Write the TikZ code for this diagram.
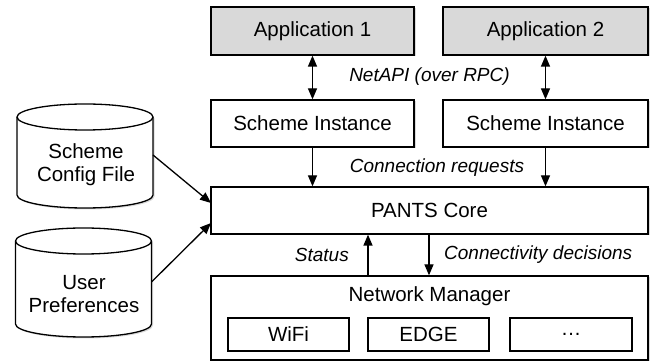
\documentclass[tikz,border=0pt]{standalone}
\usepackage{fontspec}
\setmainfont{Liberation Sans}
\usetikzlibrary{arrows.meta,shadows}
\begin{document}
\begin{tikzpicture}[x=1pt,y=1pt,
  shad/.style={drop shadow={shadow xshift=1.5pt,shadow yshift=-1.5pt,opacity=0.3}},
  box/.style={draw,line width=1.3pt,fill=white,inner sep=0pt,shad,font=\fontsize{20.5}{24}\selectfont},
  appbox/.style={box,fill=black!15},
  subbox/.style={draw,line width=1.3pt,fill=white,inner sep=0pt,minimum width=121pt,minimum height=33pt,font=\fontsize{20.5}{24}\selectfont},
  lab/.style={font=\fontsize{19}{22}\selectfont\itshape,inner sep=0pt},
  cyltext/.style={align=center,font=\fontsize{20.5}{23}\selectfont,inner sep=0pt},
  arr/.style={line width=1.3pt,-{Triangle[length=11pt,width=9pt]}},
  darr/.style={line width=1.3pt,{Triangle[length=11pt,width=9pt]}-{Triangle[length=11pt,width=9pt]}},
  cyl/.style={draw,line width=1.3pt,fill=white,shad}]
\useasboundingbox (0,0) rectangle (657,-363);

% applications
\node[appbox,minimum width=203pt,minimum height=48pt] (app1) at (312.5,-31) {Application 1};
\node[appbox,minimum width=205pt,minimum height=48pt] (app2) at (545.5,-31) {Application 2};
% scheme instances
\node[box,minimum width=203pt,minimum height=47pt] (si1) at (312.5,-123.5) {Scheme Instance};
\node[box,minimum width=205pt,minimum height=47pt] (si2) at (545.5,-123.5) {Scheme Instance};
% core
\node[box,minimum width=437pt,minimum height=47pt] (core) at (429.5,-210.5) {PANTS Core};
% network manager
\node[box,minimum width=437pt,minimum height=84pt] (nm) at (429.5,-318) {};
\node[font=\fontsize{20.5}{24}\selectfont,inner sep=0pt] (nmt) at (429.5,-296) {Network Manager};
\node[subbox] (wifi) at (288.5,-334.5) {WiFi};
\node[subbox] (edge) at (428.5,-334.5) {EDGE};
\node[subbox,minimum width=122pt] (dots) at (571,-334.5) {\dots};

% cylinders
\path[cyl] (17,-117) -- (17,-195) arc[start angle=180,end angle=360,x radius=68pt,y radius=13pt]
  -- (153,-117) arc[start angle=0,end angle=180,x radius=68pt,y radius=13pt] -- cycle;
\draw[line width=1.3pt] (17,-117) arc[start angle=180,end angle=360,x radius=68pt,y radius=13pt];
\node[cyltext] (cyl1) at (86,-165) {Scheme\\Config File};

\path[cyl] (15.5,-241) -- (15.5,-324) arc[start angle=180,end angle=360,x radius=68pt,y radius=13pt]
  -- (151.5,-241) arc[start angle=0,end angle=180,x radius=68pt,y radius=13pt] -- cycle;
\draw[line width=1.3pt] (15.5,-241) arc[start angle=180,end angle=360,x radius=68pt,y radius=13pt];
\node[cyltext] (cyl2) at (84,-294) {User\\Preferences};

\coordinate (c1out) at (153,-155);
\coordinate (c2out) at (151.5,-282);
\coordinate (core1) at (211,-203);
\coordinate (core2) at (211,-223);
\draw[arr] (c1out) -- (core1);
\draw[arr] (c2out) -- (core2);

% vertical connectors
\draw[darr] (app1.south) -- (si1.north);
\draw[darr] (app2.south) -- (si2.north);
\draw[arr] (si1.south) -- (si1.south |- core.north);
\draw[arr] (si2.south) -- (si2.south |- core.north);
\draw[arr] (368,-318+42) coordinate (st0) -- (st0 |- core.south);
\draw[arr] (429,-210.5-23.5) coordinate (cd0) -- (cd0 |- nm.north);

% labels
\node[lab] (netapi) at (429.5,-77) {NetAPI (over RPC)};
\node[lab] (connreq) at (437,-168) {Connection requests};
\node[lab,anchor=east] (status) at (349,-255) {Status};
\node[lab,anchor=west] (conndec) at (444,-255) {Connectivity decisions};
\end{tikzpicture}
\end{document}
